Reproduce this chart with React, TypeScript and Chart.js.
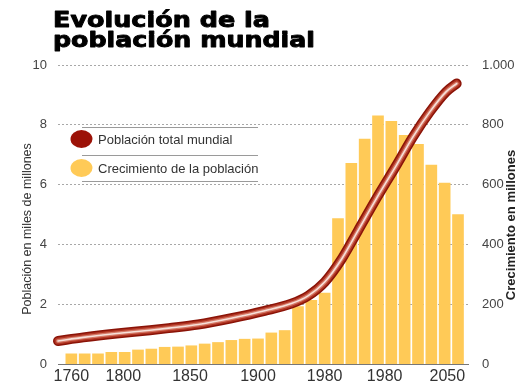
import React, { useEffect, useRef } from 'react';
import { Chart, registerables } from 'chart.js';

Chart.register(...registerables);

// Population growth per period (millions) — right axis
const growthValues = [34, 34, 34, 39, 39, 47, 50, 56, 57, 61, 67, 72, 79, 83, 84, 104, 112, 192, 213, 237, 486, 671, 752, 830, 812, 765, 735, 665, 605, 500];

// Total world population (billions) — left axis, positioned in bar-index units
const popPositions = [-1.0, 0.9, 3.4, 5.9, 7.3, 9.5, 12.0, 14.5, 16.5, 17.75, 19.0, 20.3, 21.5, 22.9, 24.4, 25.6, 26.9, 28.1, 28.9];
const popValues = [0.77, 0.89, 1.02, 1.13, 1.2, 1.32, 1.53, 1.78, 2.02, 2.28, 2.74, 3.53, 4.46, 5.55, 6.66, 7.58, 8.44, 9.1, 9.38];

const xTickPositions = [0, 3.9, 8.9, 14, 19, 23.5, 28.2];
const xTickLabels = ['1760', '1800', '1850', '1900', '1980', '1980', '2050'];

const titleLines = ['Evolución de la', 'población mundial'];
const legendLabels = ['Población total mundial', 'Crecimiento de la población'];
const leftAxisTitle = 'Población en miles de millones';
const rightAxisTitle = 'Crecimiento en millones';

const BAR_COLOR = '#ffca57';
const RED = '#9c1207';
const tubeLayers = [
  { width: 10, color: '#8a1307' },
  { width: 7, color: '#b23624' },
  { width: 4, color: '#d57a68' },
  { width: 1.6, color: '#f7e0d9' },
];

const FONT = "'Liberation Sans', Arial, sans-serif";

const decorPlugin = {
  id: 'decor',
  afterDraw(chart: any) {
    const ctx = chart.ctx as CanvasRenderingContext2D;
    ctx.save();
    // Title
    ctx.fillStyle = '#000';
    ctx.strokeStyle = '#000';
    ctx.lineWidth = 0.9;
    ctx.lineJoin = 'round';
    ctx.font = "bold 21px 'DejaVu Sans', sans-serif";
    ctx.textBaseline = 'alphabetic';
    ctx.textAlign = 'left';
    const targets = [{ w: 217, y: 27 }, { w: 262, y: 47 }];
    titleLines.forEach((t, i) => {
      const m = ctx.measureText(t).width;
      ctx.save();
      ctx.translate(53, targets[i].y);
      ctx.scale(targets[i].w / m, 1);
      ctx.fillText(t, 0, 0);
      ctx.strokeText(t, 0, 0);
      ctx.restore();
    });

    // Axis titles
    ctx.fillStyle = '#333';
    ctx.textAlign = 'center';
    ctx.textBaseline = 'middle';
    ctx.font = `12.5px ${FONT}`;
    ctx.save();
    ctx.translate(28, 229);
    ctx.rotate(-Math.PI / 2);
    ctx.fillText(leftAxisTitle, 0, 0);
    ctx.restore();

    ctx.fillStyle = '#222';
    ctx.font = `bold 13px ${FONT}`;
    ctx.save();
    ctx.translate(511, 225);
    ctx.rotate(-Math.PI / 2);
    ctx.fillText(rightAxisTitle, 0, 0);
    ctx.restore();

    // Legend
    ctx.strokeStyle = '#9a9a9a';
    ctx.lineWidth = 1;
    [127.5, 155.5, 181.5].forEach((y) => {
      ctx.beginPath();
      ctx.moveTo(82, y);
      ctx.lineTo(258, y);
      ctx.stroke();
    });
    const colors = [RED, BAR_COLOR];
    const ys = [139, 168];
    legendLabels.forEach((label, i) => {
      ctx.fillStyle = colors[i];
      ctx.beginPath();
      ctx.ellipse(81.5, ys[i], 11, 9, 0, 0, Math.PI * 2);
      ctx.fill();
      ctx.fillStyle = '#333';
      ctx.textAlign = 'left';
      ctx.textBaseline = 'middle';
      ctx.font = `13px ${FONT}`;
      ctx.fillText(label, 98, ys[i] + 1);
    });
    ctx.restore();
  },
};

export default function App() {
  const ref = useRef<HTMLCanvasElement | null>(null);

  useEffect(() => {
    document.body.style.margin = '0';
    const canvas = ref.current;
    if (!canvas) return;
    const linePoints = popPositions.map((x, i) => ({ x, y: popValues[i] }));
    const barPoints = growthValues.map((v, i) => ({ x: i, y: v }));

    const chart = new Chart(canvas, {
      type: 'bar',
      data: {
        datasets: [
          ...tubeLayers.map((layer, k) => ({
            type: 'line' as const,
            label: legendLabels[0],
            data: linePoints,
            xAxisID: 'x',
            yAxisID: 'y',
            borderColor: layer.color,
            borderWidth: layer.width,
            pointRadius: 0,
            cubicInterpolationMode: 'monotone' as const,
            borderCapStyle: 'round' as const,
            borderJoinStyle: 'round' as const,
            fill: false,
            clip: false,
            order: tubeLayers.length - 1 - k,
          })),
          {
            type: 'bar' as const,
            label: legendLabels[1],
            data: barPoints,
            xAxisID: 'x',
            yAxisID: 'y1',
            backgroundColor: BAR_COLOR,
            barThickness: 11,
            order: 10,
          },
        ],
      } as any,
      options: {
        responsive: false,
        animation: false,
        layout: { padding: { top: 65, left: 0, right: 0, bottom: 0 } },
        plugins: {
          legend: { display: false },
          tooltip: { enabled: false },
          title: { display: false },
        },
        scales: {
          x: {
            type: 'linear',
            offset: false,
            min: -1,
            max: 29.75,
            grid: { display: false, drawTicks: false, offset: false },
            border: { display: true, color: '#777', width: 1 },
            afterBuildTicks: (s: any) => {
              s.ticks = xTickPositions.map((v) => ({ value: v }));
            },
            afterFit: (s: any) => {
              s.height = 26;
            },
            ticks: {
              autoSkip: false,
              maxRotation: 0,
              minRotation: 0,
              padding: 3,
              color: '#333',
              font: { family: FONT, size: 16 },
              callback: (_v: any, i: number) => xTickLabels[i],
            },
          },
          y: {
            type: 'linear',
            position: 'left',
            min: 0,
            max: 10,
            grid: { color: '#a8a8a8', lineWidth: 1, drawTicks: false },
            border: { display: false, dash: [2, 2] },
            afterFit: (s: any) => {
              s.width = 58;
            },
            ticks: {
              stepSize: 2,
              padding: 11,
              color: '#444',
              font: { family: FONT, size: 13 },
            },
          },
          y1: {
            type: 'linear',
            position: 'right',
            min: 0,
            max: 1000,
            grid: { display: false },
            border: { display: false },
            afterFit: (s: any) => {
              s.width = 55;
            },
            ticks: {
              stepSize: 200,
              padding: 6,
              color: '#444',
              font: { family: FONT, size: 13 },
              callback: (v: any) => (v >= 1000 ? `${Math.floor(v / 1000)}.${String(v % 1000).padStart(3, '0')}` : String(v)),
            },
          },
        },
      } as any,
      plugins: [decorPlugin],
    });
    return () => chart.destroy();
  }, []);

  return (
    <div style={{ width: 523, height: 390, background: '#fff' }}>
      <canvas ref={ref} width={523} height={390} style={{ display: 'block' }} />
    </div>
  );
}
